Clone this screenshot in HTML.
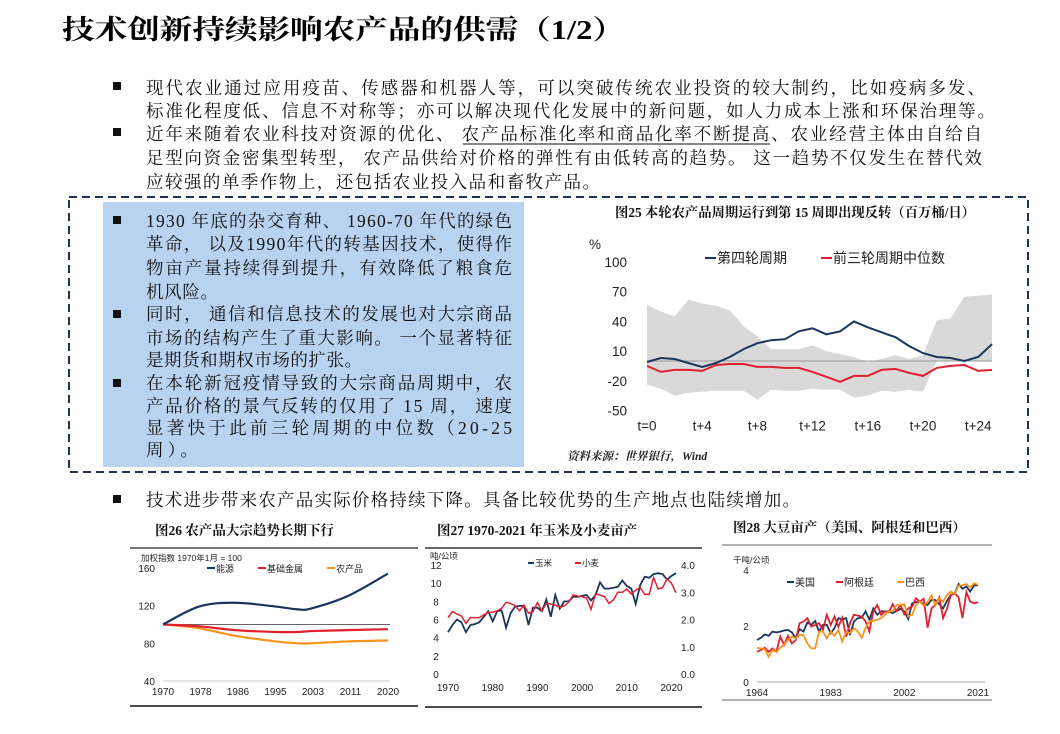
<!DOCTYPE html>
<html><head><meta charset="utf-8"><style>
html,body{margin:0;padding:0;background:#fff;width:1060px;height:734px;overflow:hidden}
svg{display:block}
.p{font-family:"Liberation Serif","Noto Serif CJK SC",serif;font-size:17.5px;fill:#111}
.t{font-family:"Liberation Sans","Noto Sans CJK SC",sans-serif;fill:#222}
.ct{font-family:"Liberation Serif","Noto Serif CJK SC",serif;font-weight:bold;font-size:13.5px;fill:#111}
</style></head><body>
<svg id="root" width="1060" height="734" viewBox="0 0 1060 734" xmlns="http://www.w3.org/2000/svg">
<text x="62" y="39" textLength="563" lengthAdjust="spacingAndGlyphs" font-family="Liberation Serif, Noto Serif CJK SC, serif" font-weight="bold" font-size="27" fill="#000">技术创新持续影响农产品的供需（1/2）</text>

<g>
<rect x="113" y="82" width="8" height="8" fill="#111"/>
<text class="p" x="146" y="94" textLength="839" lengthAdjust="spacing">现代农业通过应用疫苗、传感器和机器人等，可以突破传统农业投资的较大制约，比如疫病多发、</text>
<text class="p" x="146" y="117" textLength="849" lengthAdjust="spacing">标准化程度低、信息不对称等；亦可以解决现代化发展中的新问题，如人力成本上涨和环保治理等。</text>
<rect x="113" y="128" width="8" height="8" fill="#111"/>
<text class="p" x="146" y="140" textLength="836" lengthAdjust="spacing">近年来随着农业科技对资源的优化、 农产品标准化率和商品化率不断提高、农业经营主体由自给自</text>
<line x1="463" y1="144" x2="770" y2="144" stroke="#111" stroke-width="1"/>
<text class="p" x="146" y="164" textLength="836" lengthAdjust="spacing">足型向资金密集型转型， 农产品供给对价格的弹性有由低转高的趋势。 这一趋势不仅发生在替代效</text>
<text class="p" x="146" y="188" textLength="454" lengthAdjust="spacing">应较强的单季作物上，还包括农业投入品和畜牧产品。</text>
</g>

<rect x="69" y="197" width="959" height="275" fill="none" stroke="#1f3355" stroke-width="2" stroke-dasharray="8,5"/>
<rect x="103" y="202" width="421" height="265" fill="#b8d3f0"/>
<g>
<rect x="113" y="216" width="8" height="8" fill="#111"/>
<text class="p" x="146" y="227" textLength="366" lengthAdjust="spacing">1930 年底的杂交育种、 1960-70 年代的绿色</text>
<text class="p" x="146" y="250" textLength="366" lengthAdjust="spacing">革命， 以及1990年代的转基因技术，使得作</text>
<text class="p" x="146" y="274" textLength="366" lengthAdjust="spacing">物亩产量持续得到提升，有效降低了粮食危</text>
<text class="p" x="146" y="298" textLength="72" lengthAdjust="spacing">机风险。</text>
<rect x="113" y="310" width="8" height="8" fill="#111"/>
<text class="p" x="146" y="320" textLength="366" lengthAdjust="spacing">同时， 通信和信息技术的发展也对大宗商品</text>
<text class="p" x="146" y="344" textLength="366" lengthAdjust="spacing">市场的结构产生了重大影响。 一个显著特征</text>
<text class="p" x="146" y="366" textLength="216" lengthAdjust="spacing">是期货和期权市场的扩张。</text>
<rect x="113" y="379" width="8" height="8" fill="#111"/>
<text class="p" x="146" y="389" textLength="366" lengthAdjust="spacing">在本轮新冠疫情导致的大宗商品周期中，农</text>
<text class="p" x="146" y="412" textLength="366" lengthAdjust="spacing">产品价格的景气反转的仅用了 15 周， 速度</text>
<text class="p" x="146" y="434" textLength="366" lengthAdjust="spacing">显著快于此前三轮周期的中位数（20-25</text>
<text class="p" x="146" y="456" textLength="52" lengthAdjust="spacing">周）。</text>
</g>

<text class="ct" x="615" y="217" textLength="360" lengthAdjust="spacingAndGlyphs">图25 本轮农产品周期运行到第 15 周即出现反转（百万桶/日）</text>
<g id="c25"></g>
<text x="567" y="460" font-family="Liberation Serif, Noto Serif CJK SC, serif" font-style="italic" font-weight="bold" font-size="11.5" fill="#222">资料来源：世界银行，Wind</text>

<rect x="113" y="495" width="8" height="8" fill="#111"/>
<text class="p" x="146" y="506" textLength="654" lengthAdjust="spacing">技术进步带来农产品实际价格持续下降。具备比较优势的生产地点也陆续增加。</text>

<text class="ct" x="155" y="535">图26 农产品大宗趋势长期下行</text>
<line x1="130" y1="548" x2="418" y2="548" stroke="#777" stroke-width="2"/>
<line x1="130" y1="706" x2="418" y2="706" stroke="#111" stroke-width="1.5"/>
<g id="c26"></g>

<text class="ct" x="437" y="535">图27 1970-2021 年玉米及小麦亩产</text>
<line x1="425" y1="548" x2="702" y2="548" stroke="#333" stroke-width="1.5"/>
<line x1="425" y1="707" x2="702" y2="707" stroke="#111" stroke-width="1.5"/>
<g id="c27"></g>

<text class="ct" x="733" y="532">图28 大豆亩产（美国、阿根廷和巴西）</text>
<line x1="722" y1="545" x2="992" y2="545" stroke="#999" stroke-width="1.5"/>
<line x1="722" y1="700" x2="992" y2="700" stroke="#999" stroke-width="1.5"/>
<g id="c28"></g>
</svg>
<script>
// ---- Fig25 data ----
const f25Steps = [0,1,2,3,4,5,6,7,8,9,10,11,12,13,14,15,16,17,18,19,20,21,22,23,24,25];
const f25Fourth = [-1,3,2,-2,-6,-2,4,12,18,21,22,30,33,27,30,40,34,29,24,15,8,4,3,0,4,17];
const f25Median = [-5,-11,-9,-9,-10,-4,-3,-3,-6,-6,-7,-7,-11,-16,-21,-15,-15,-9,-8,-12,-15,-7,-5,-4,-10,-9];
const f25Upper = [57,50,45,62,58,56,51,35,25,12,12,12,16,10,7,4,-1,2,6,2,6,41,43,65,66,67];
const f25Lower = [-24,-28,-35,-32,-31,-30,-30,-30,-39,-29,-30,-30,-28,-29,-29,-37,-35,-30,-31,-29,-31,0,0,0,0,0];
const f25YTicks = [100,70,40,10,-20,-50];
const f25XTicks = ["t=0","t+4","t+8","t+12","t+16","t+20","t+24"];
// ---- Fig26 data ----
const f26Years = [1970,1978,1986,1995,2000,2003,2011,2020];
const f26Energy = [100,119,123,119,116,117,130,154];
const f26Metals = [100,98,94,92,92,93,94,95];
const f26Agri = [100,96,88,82,80,80,82,83];
const f26YTicks = [160,120,80,40];
const f26XTicks = ["1970","1978","1986","1995","2003","2011","2020"];
// ---- Fig27 data ----
const f27Corn = [4.6,5.4,6.0,5.7,4.6,5.4,5.5,5.7,6.3,6.9,5.8,6.9,7.0,5.1,6.7,7.4,7.5,7.5,5.4,7.3,7.3,6.9,8.2,6.3,8.7,7.2,8.0,8.0,8.5,8.5,8.6,8.7,8.1,8.7,10.1,9.4,9.4,9.5,9.6,10.3,9.7,9.4,7.7,9.8,10.7,10.6,11.0,11.1,11.0,10.4,10.8,11.1];
const f27Wheat = [2.07,2.29,2.20,2.13,1.86,2.07,2.07,2.07,2.17,2.26,2.26,2.32,2.41,2.63,2.59,2.51,2.32,2.53,2.23,2.29,2.62,2.31,2.59,2.57,2.53,2.45,2.50,2.63,2.90,2.86,2.84,2.78,2.37,2.94,2.90,2.84,2.59,2.72,3.00,3.00,3.12,2.94,3.08,3.17,2.92,2.92,3.54,3.12,3.17,3.49,3.33,2.98];
const f27LeftTicks = [0,2,4,6,8,10,12];
const f27RightTicks = ["0.0","1.0","2.0","3.0","4.0"];
const f27XTicks = [1970,1980,1990,2000,2010,2020];
// ---- Fig28 data ----
const f28US = [1.50,1.58,1.70,1.65,1.80,1.77,1.80,1.84,1.86,1.77,1.56,1.89,1.80,2.13,2.04,2.18,1.80,2.04,2.04,1.74,1.92,2.28,2.24,2.28,1.68,2.16,2.28,2.30,2.52,2.22,2.63,2.40,2.52,2.52,2.52,2.46,2.54,2.61,2.52,2.25,2.81,2.85,2.87,2.78,2.75,2.93,2.93,2.78,2.63,2.90,3.11,3.17,3.50,3.33,3.41,3.23,3.45,3.45];
const f28Argentina = [1.08,1.14,1.22,1.08,1.20,1.08,1.62,1.32,1.65,1.38,1.50,2.10,2.16,2.28,1.98,2.04,2.10,1.86,2.40,2.04,2.34,1.98,2.30,1.62,2.10,2.40,2.37,2.34,2.16,1.80,2.52,2.75,2.40,2.52,2.49,2.78,2.54,2.75,2.42,2.63,2.69,2.99,2.87,2.97,1.94,2.63,2.75,3.02,2.28,2.63,3.11,3.17,3.02,2.28,3.21,2.87,2.81,2.85];
const f28Brazil = [1.22,1.20,1.17,0.90,1.14,1.08,1.22,1.34,1.50,1.62,1.56,1.68,1.68,1.38,1.20,1.20,1.80,1.80,1.56,1.80,1.65,1.86,1.44,1.80,1.74,1.92,1.80,1.58,1.94,2.16,2.18,2.22,2.28,2.40,2.52,2.52,2.75,2.75,2.78,2.34,2.40,2.75,2.87,2.73,2.85,3.09,2.73,2.99,2.87,3.11,3.23,3.14,3.45,3.45,3.50,3.38,3.53,3.47];
const f28YTicks = [0,2,4];
const f28XTicks = [1964,1983,2002,2021];

const NS="http://www.w3.org/2000/svg";
const NAVY="#1b365d", RED="#e0202f", ORANGE="#f7941d";
function mk(tag, parent, attrs){const e=document.createElementNS(NS,tag);for(const k in attrs)e.setAttribute(k,attrs[k]);parent.appendChild(e);return e;}
function txt(parent,x,y,s,size,anchor){const e=mk('text',parent,{x:x,y:y,'font-size':size,'text-anchor':anchor||'start',class:'t'});e.textContent=s;return e;}
function linePath(xs,ys){return xs.map((x,i)=>(i?'L':'M')+x.toFixed(1)+','+ys[i].toFixed(1)).join('');}
function smoothPath(xs,ys){let d='M'+xs[0]+','+ys[0];for(let i=0;i<xs.length-1;i++){const x0=xs[Math.max(i-1,0)],y0=ys[Math.max(i-1,0)],x1=xs[i],y1=ys[i],x2=xs[i+1],y2=ys[i+1],x3=xs[Math.min(i+2,xs.length-1)],y3=ys[Math.min(i+2,ys.length-1)];d+='C'+(x1+(x2-x0)/6)+','+(y1+(y2-y0)/6)+' '+(x2-(x3-x1)/6)+','+(y2-(y3-y1)/6)+' '+x2+','+y2;}return d;}

// Fig25
(function(){
const g=document.getElementById('c25');
const x=t=>647+t*13.8, y=v=>361-v*0.99;
const up=f25Steps.map((t,i)=>x(t)+','+y(f25Upper[i]).toFixed(1));
const lo=f25Steps.map((t,i)=>x(t)+','+y(f25Lower[i]).toFixed(1)).reverse();
const band=mk('polygon',g,{points:up.concat(lo).join(' '),fill:'#d9d9d9'});


const z=mk('line',g,{x1:x(0),x2:x(25),y1:y(0),y2:y(0),stroke:'#999','stroke-width':1});


f25YTicks.forEach(v=>{const e=txt(g,627,y(v)+5,String(v),13.5,'end');

});
f25XTicks.forEach((s,i)=>{const e=txt(g,x(i*4),y(-50)+20,s,13.5,'middle');

});
const pc=txt(g,589,249,'%',13.5,'start');


const xs=f25Steps.map(x);
const r=mk('path',g,{d:linePath(xs,f25Median.map(y)),fill:'none',stroke:RED,'stroke-width':2});


const b=mk('path',g,{d:linePath(xs,f25Fourth.map(y)),fill:'none',stroke:NAVY,'stroke-width':2});


const l1=mk('line',g,{x1:705,x2:716,y1:258,y2:258,stroke:NAVY,'stroke-width':2});


const t1=txt(g,717,263,'第四轮周期',14);


const l2=mk('line',g,{x1:821,x2:832,y1:258,y2:258,stroke:RED,'stroke-width':2});


const t2=txt(g,833,263,'前三轮周期中位数',14);


})();

// Fig26
(function(){
const g=document.getElementById('c26');
const x=yr=>163+(yr-1970)*4.5, y=v=>681-(v-40)*0.9425;
const a=txt(g,141,561,'加权指数 1970年1月 = 100',8.5);


const base=mk('line',g,{x1:163,x2:390,y1:y(40),y2:y(40),stroke:'#ccc'});


const ref=mk('line',g,{x1:163,x2:390,y1:y(100),y2:y(100),stroke:'#666'});


f26YTicks.forEach(v=>{const e=txt(g,155,y(v)+4,String(v),10,'end');

});
f26XTicks.forEach((s,i)=>{const e=txt(g,163+i*37.5,695,s,10,'middle');

});
const xs=f26Years.map(x);
[[f26Agri,ORANGE,'agri-line'],[f26Metals,RED,'metals-line'],[f26Energy,NAVY,'energy-line']].forEach(([d,c,n])=>{
const p=mk('path',g,{d:smoothPath(xs,d.map(y)),fill:'none',stroke:c,'stroke-width':2.2});

});
[[207,NAVY,'能源'],[258,RED,'基础金属'],[327,ORANGE,'农产品']].forEach(([lx,c,s])=>{
const l=mk('line',g,{x1:lx,x2:lx+8,y1:568,y2:568,stroke:c,'stroke-width':2});


const t=txt(g,lx+9,572,s,9);

});
})();

// Fig27
(function(){
const g=document.getElementById('c27');
const x=yr=>448+(yr-1970)*4.47, yl=v=>674-v*9.08, yr_=v=>674-v*27.25;
const a=txt(g,430,559,'吨/公顷',8.5);


f27LeftTicks.forEach(v=>{const e=txt(g,436,yl(v)+4,String(v),10,'middle');

});
f27RightTicks.forEach((s,i)=>{const e=txt(g,688,yr_(i)+4,s,10,'middle');

});
f27XTicks.forEach(v=>{const e=txt(g,x(v),691,String(v),10,'middle');

});
const cx=f27Corn.map((v,i)=>x(1970+i));
const c=mk('path',g,{d:linePath(cx,f27Corn.map(yl)),fill:'none',stroke:NAVY,'stroke-width':1.8});


const w=mk('path',g,{d:linePath(cx,f27Wheat.map(yr_)),fill:'none',stroke:RED,'stroke-width':1.5});


[[528,NAVY,'玉米'],[575,RED,'小麦']].forEach(([lx,c,s])=>{
const l=mk('line',g,{x1:lx,x2:lx+6,y1:563,y2:563,stroke:c,'stroke-width':2});


const t=txt(g,lx+7,566,s,8.5);

});
})();

// Fig28
(function(){
const g=document.getElementById('c28');
const x=yr=>757+(yr-1964)*3.877, y=v=>682-v*28;
const a=txt(g,733,563,'千吨/公顷',8.5);


const ax=mk('line',g,{x1:757,x2:985,y1:y(0),y2:y(0),stroke:'#aaa'});


f28YTicks.forEach(v=>{const e=txt(g,746,y(v)+4,String(v),10,'middle');

});
f28XTicks.forEach(v=>{const e=txt(g,x(v),696,String(v),10,'middle');

});
const xs=f28US.map((v,i)=>x(1964+i));
[[f28US,NAVY,'us-line'],[f28Argentina,RED,'argentina-line'],[f28Brazil,ORANGE,'brazil-line']].forEach(([d,c,n])=>{
const p=mk('path',g,{d:linePath(xs,d.map(y)),fill:'none',stroke:c,'stroke-width':1.8});

});
[[787,NAVY,'美国'],[836,RED,'阿根廷'],[897,ORANGE,'巴西']].forEach(([lx,c,s])=>{
const l=mk('line',g,{x1:lx,x2:lx+7,y1:582,y2:582,stroke:c,'stroke-width':2});


const t=txt(g,lx+8,586,s,10);

});
})();
</script>
</body></html>
